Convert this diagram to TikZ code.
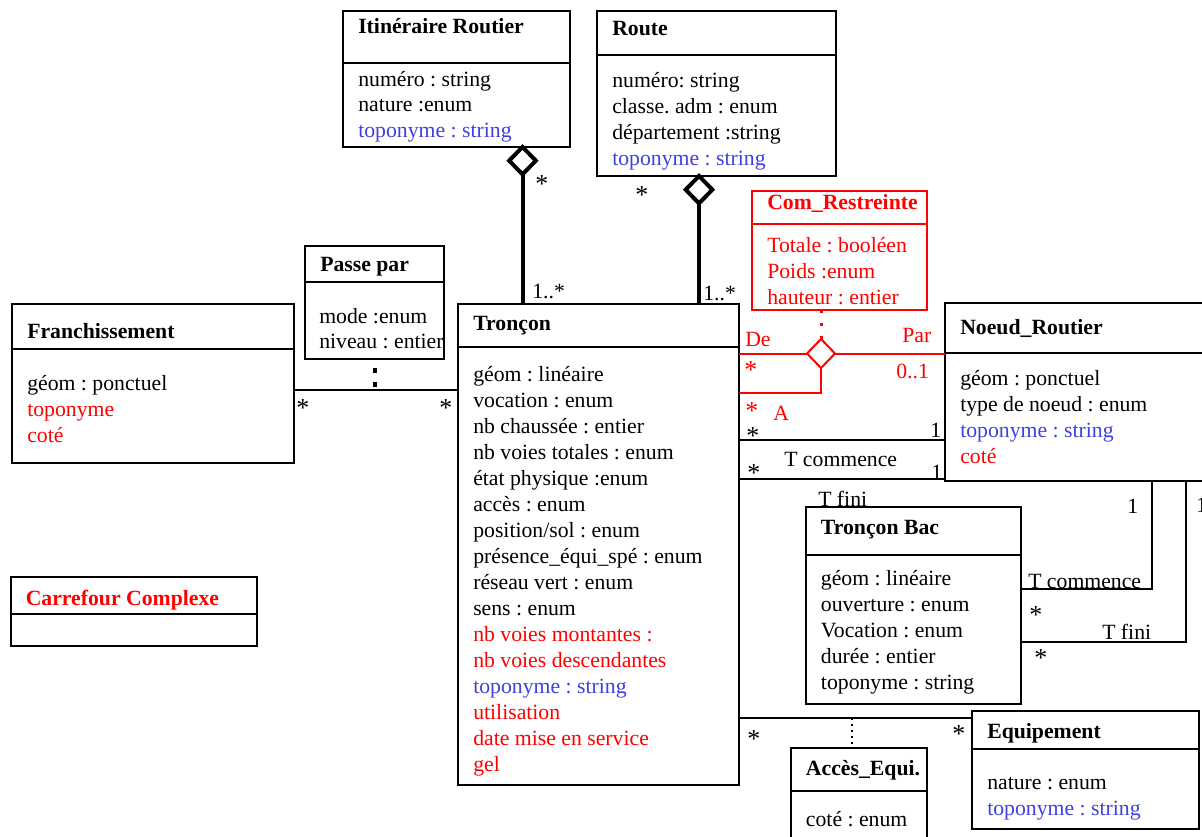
\documentclass[tikz,border=0pt]{standalone}
\usepackage{fontspec}
\setmainfont{Liberation Serif}
\frenchspacing
\usetikzlibrary{shapes.geometric,fit}
\definecolor{ured}{RGB}{255,0,0}
\definecolor{ublue}{RGB}{64,64,224}
\newcommand{\rd}[1]{\textcolor{ured}{#1}}
\newcommand{\bl}[1]{\textcolor{ublue}{#1}}
\tikzset{
  umlbox/.style={draw, line width=1.5pt, inner sep=0pt, outer sep=0pt},
  divline/.style={line width=1.5pt},
  ttl/.style={anchor=base west, inner sep=0pt, font=\fontsize{16.3}{19.5}\selectfont\bfseries},
  att/.style={anchor=base west, inner sep=0pt},
  lbl/.style={anchor=base west, inner sep=0pt},
  star/.style={anchor=base west, inner sep=0pt, font=\fontsize{19.5}{22}\selectfont},
  conn/.style={line width=1.5pt},
  aggline/.style={line width=3pt},
  aggdia/.style={draw, diamond, line width=3pt, inner sep=0pt, outer sep=0pt, minimum width=20pt, minimum height=20.5pt, fill=white},
  reddia/.style={draw=ured, diamond, line width=1.5pt, inner sep=0pt, outer sep=0pt, minimum width=21pt, minimum height=21.75pt, fill=white},
}
\begin{document}
\begin{tikzpicture}[x=0.75pt,y=-0.75pt,font=\fontsize{16.3}{19.5}\selectfont]
\clip (0,0) rectangle (1202,836);
% helper coordinates
\coordinate (xI) at (522.5,0);
\coordinate (xR) at (699,0);
\coordinate (xC) at (1152,0);
\coordinate (xF) at (1186,0);
\coordinate (xA) at (852,0);
\coordinate (y390) at (0,390);
\coordinate (yA) at (0,393);
\coordinate (y440) at (0,440);
\coordinate (y479) at (0,479);
\coordinate (y589) at (0,589);
\coordinate (y642) at (0,642);
\coordinate (y718) at (0,718);

% Itineraire Routier
\node[umlbox, fit={(343,11) (570,147)}] (it) {};
\draw[divline] (343,63) -- (570,63);
\node[ttl] (itT) at (358,33) {Itinéraire Routier};
\foreach \t [count=\i from 0] in {numéro : string, nature :enum, \bl{toponyme : string}}
  \node[att] (it\i) at (358,86+25.5*\i) {\t};

% Route
\node[umlbox, fit={(597,11) (836,176)}] (ro) {};
\draw[divline] (597,55) -- (836,55);
\node[ttl] (roT) at (612,35) {Route};
\foreach \t [count=\i from 0] in {numéro: string, classe. adm : enum, département :string, \bl{toponyme : string}}
  \node[att] (ro\i) at (612,87+26*\i) {\t};

% Passe par
\node[umlbox, fit={(305,246) (444,359)}] (pp) {};
\draw[divline] (305,282) -- (444,282);
\node[ttl] (ppT) at (320,271) {Passe par};
\foreach \t [count=\i from 0] in {mode :enum, niveau : entier}
  \node[att] (pp\i) at (319,323+25.5*\i) {\t};

% Franchissement
\node[umlbox, fit={(12,304) (294,463)}] (fr) {};
\draw[divline] (12,349) -- (294,349);
\node[ttl] (frT) at (27,338) {Franchissement};
\foreach \t [count=\i from 0] in {géom : ponctuel, \rd{toponyme}, \rd{coté}}
  \node[att] (fr\i) at (27,390+26*\i) {\t};

% Carrefour Complexe
\node[umlbox, fit={(11,577) (257,646)}] (cc) {};
\draw[divline] (11,614) -- (257,614);
\node[ttl, text=ured] (ccT) at (25.5,605) {Carrefour Complexe};

% Troncon
\node[umlbox, fit={(458,304) (739,785)}] (tr) {};
\draw[divline] (458,347) -- (739,347);
\node[ttl] (trT) at (473,330) {Tronçon};
\foreach \t [count=\i from 0] in {géom : linéaire, vocation : enum, nb chaussée : entier, nb voies totales : enum, état physique :enum, accès : enum, position/sol : enum, présence\_équi\_spé : enum, réseau vert : enum, sens : enum, \rd{nb voies montantes :}, \rd{nb voies descendantes}, \bl{toponyme : string}, \rd{utilisation}, \rd{date mise en service}, \rd{gel}}
  \node[att] (tr\i) at (473,381.5+26*\i) {\t};

% Com_Restreinte
\node[umlbox, draw=ured, fit={(752,191) (927,310)}] (cr) {};
\draw[divline, ured] (752,224) -- (927,224);
\node[ttl, text=ured] (crT) at (767,209) {Com\_Restreinte};
\foreach \t [count=\i from 0] in {Totale : booléen, Poids :enum, hauteur : entier}
  \node[att, text=ured] (cr\i) at (767,252.7+26*\i) {\t};

% Noeud_Routier
\node[umlbox, fit={(945,303) (1215,481)}] (nr) {};
\draw[divline] (945,353) -- (1215,353);
\node[ttl] (nrT) at (960,334) {Noeud\_Routier};
\foreach \t [count=\i from 0] in {géom : ponctuel, type de noeud : enum, \bl{toponyme : string}, \rd{coté}}
  \node[att] (nr\i) at (960,385+26.2*\i) {\t};

% Troncon Bac
\node[umlbox, fit={(806,507) (1021,704)}] (tb) {};
\draw[divline] (806,555) -- (1021,555);
\node[ttl] (tbT) at (820.7,534) {Tronçon Bac};
\foreach \t [count=\i from 0] in {géom : linéaire, ouverture : enum, Vocation : enum, durée : entier, toponyme : string}
  \node[att] (tb\i) at (820.7,585.7+26*\i) {\t};

% Equipement
\node[umlbox, fit={(972,711) (1199,829)}] (eq) {};
\draw[divline] (972,749) -- (1199,749);
\node[ttl] (eqT) at (987,738) {Equipement};
\foreach \t [count=\i from 0] in {nature : enum, \bl{toponyme : string}}
  \node[att] (eq\i) at (987,789+26.5*\i) {\t};

% Acces_Equi.
\node[umlbox, fit={(791,748) (927,860)}] (ae) {};
\draw[divline] (791,791) -- (927,791);
\node[ttl] (aeT) at (805.7,775) {Accès\_Equi.};
\node[att] (ae0) at (805.7,826.7) {coté : enum};

% aggregations
\node[aggdia, anchor=north] (dI) at (xI |- it.south) {};
\draw[aggline] (dI.south) -- (dI.south |- tr.north);
\node[aggdia, anchor=north] (dR) at (xR |- ro.south) {};
\draw[aggline] (dR.south) -- (dR.south |- tr.north);

% Franchissement -- Troncon (Passe par)
\draw[conn] (fr.east |- y390) -- (tr.west |- y390);
\draw[line width=3pt, dash pattern=on 3.75pt off 6.75pt, dash phase=3.75pt] (pp.south) -- (pp.south |- y390);

% Com_Restreinte ternary
\node[reddia] (rD) at (821,353.5) {};
\draw[ured, line width=2.25pt, dash pattern=on 2.25pt off 7.5pt] (rD.north |- cr.south) -- (rD.north);
\draw[ured, conn] (tr.east |- rD.west) -- (rD.west);
\draw[ured, conn] (rD.east) -- (nr.west |- rD.east);
\draw[ured, conn] (rD.south) |- (tr.east |- yA);

% Troncon -- Noeud
\draw[conn] (tr.east |- y440) -- (nr.west |- y440);
\draw[conn] (tr.east |- y479) -- (nr.west |- y479);

% Troncon Bac -- Noeud
\draw[conn] (tb.east |- y589) -| (xC |- nr.south);
\draw[conn] (tb.east |- y642) -| (xF |- nr.south);

% Troncon -- Equipement (Acces_Equi.)
\draw[conn] (tr.east |- y718) -- (eq.west |- y718);
\draw[line width=1.5pt, dash pattern=on 1.5pt off 3pt] (xA |- y718) -- (xA |- ae.north);

% multiplicities and role labels
\node[star] (m1) at (535,192) {*};
\node[lbl] (m2) at (532,298) {1..*};
\node[star] (m3) at (635,203.5) {*};
\node[lbl] (m4) at (703,300) {1..*};
\node[star] (m5) at (296,416) {*};
\node[star] (m6) at (439,416) {*};
\node[lbl, text=ured] (r1) at (745,346) {De};
\node[star, text=ured] (r2) at (744,378) {*};
\node[lbl, text=ured] (r3) at (902,342) {Par};
\node[lbl, text=ured] (r4) at (896,378.5) {0..1};
\node[star, text=ured] (r5) at (745,419.5) {*};
\node[lbl, text=ured] (r6) at (773,420) {A};
\node[star] (n1) at (746,444.5) {*};
\node[lbl] (n2) at (930,437) {1};
\node[lbl] (n3) at (784,466) {T commence};
\node[star] (n4) at (747,481) {*};
\node[lbl] (n5) at (931,479) {1};
\node[lbl] (n6) at (818,506) {T fini};
\node[lbl] (b1) at (1127,513) {1};
\node[lbl] (b2) at (1196,512) {1};
\node[lbl] (b3) at (1028,588.5) {T commence};
\node[star] (b4) at (1029,623) {*};
\node[lbl] (b5) at (1102,639.5) {T fini};
\node[star] (b6) at (1034,666.5) {*};
\node[star] (e1) at (747,747) {*};
\node[star] (e2) at (952,742) {*};
\end{tikzpicture}
\end{document}
